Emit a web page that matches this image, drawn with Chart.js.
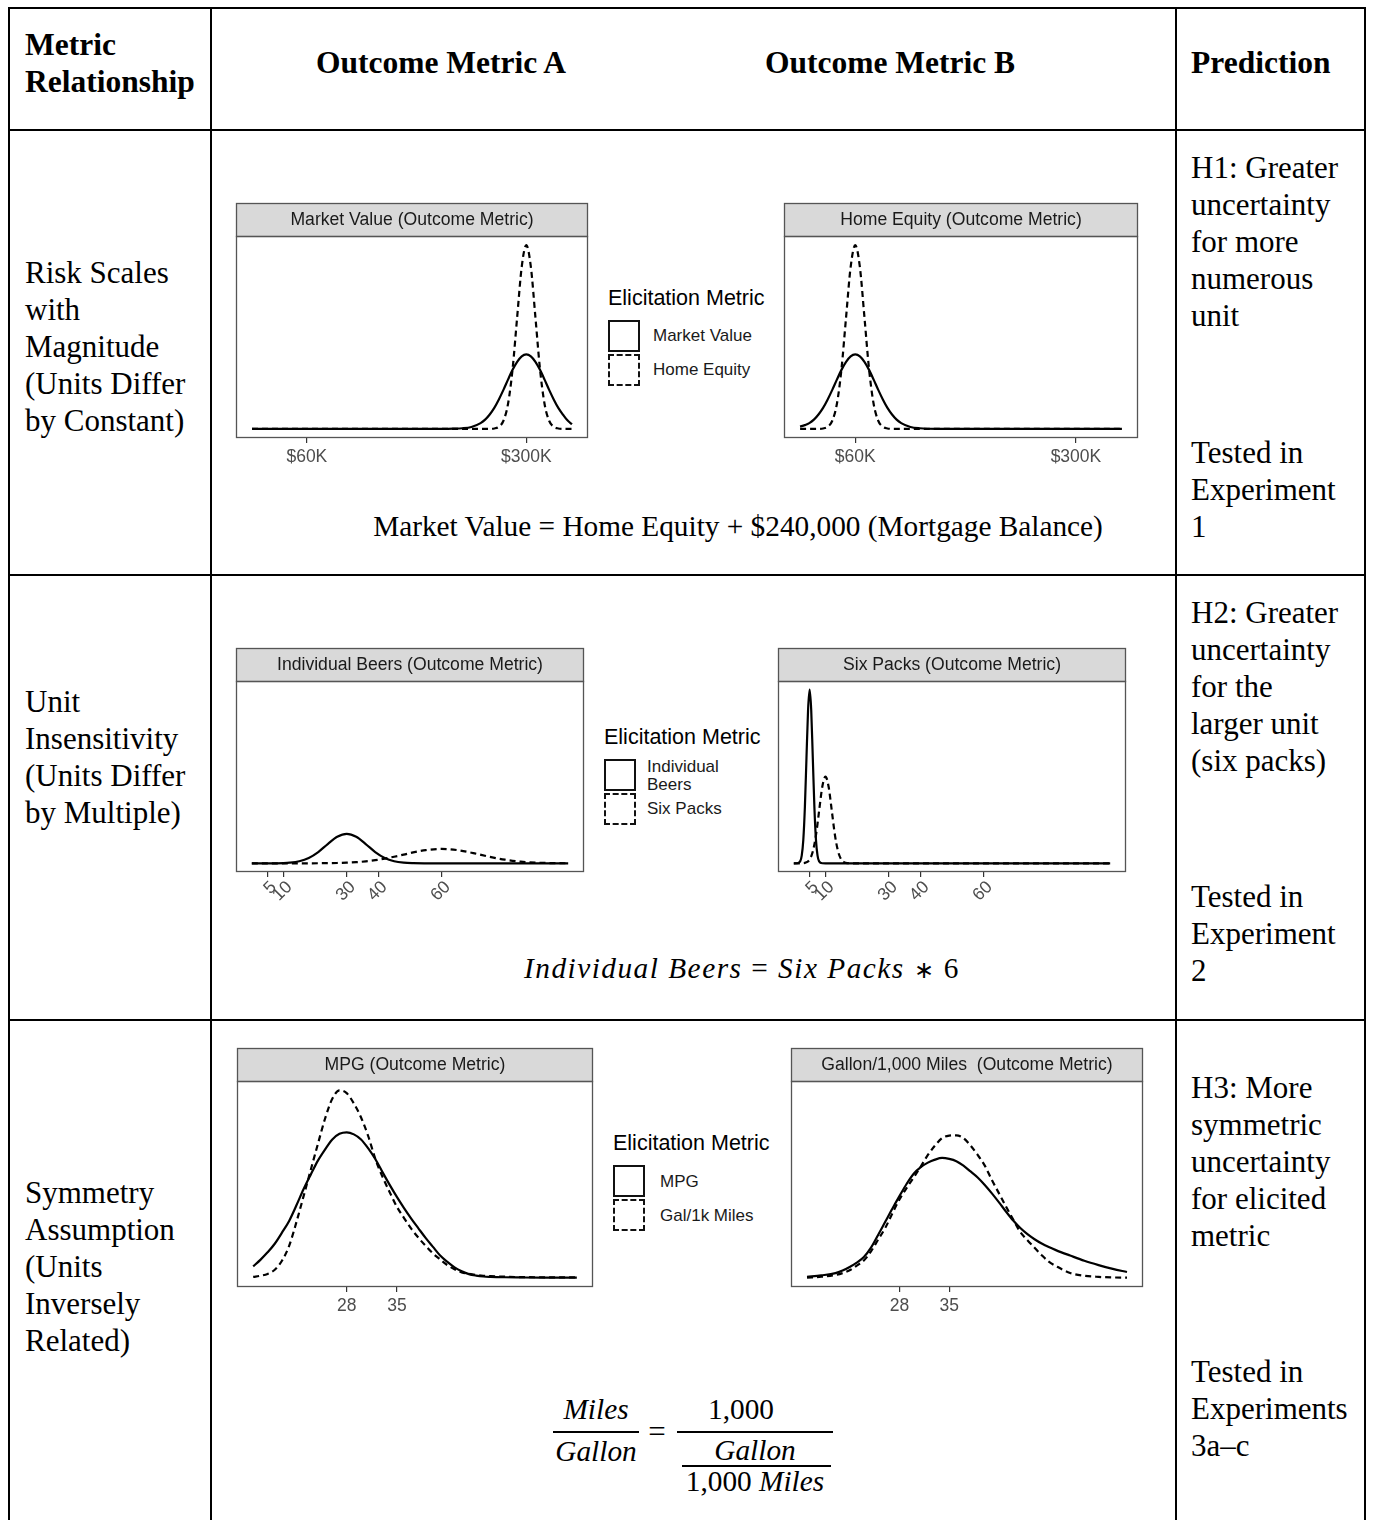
<!DOCTYPE html>
<html>
<head>
<meta charset="utf-8">
<script src="https://cdn.jsdelivr.net/npm/chart.js@4.4.1/dist/chart.umd.min.js"></script>
<style>
  html, body { margin:0; padding:0; background:#fff; }
  #page { position:relative; width:1374px; height:1520px; overflow:hidden; background:#fff; }
  .ln { position:absolute; background:#000; }
  .t { position:absolute; font-family:"Liberation Serif","Times New Roman",serif; font-size:31px; line-height:37px; color:#000; white-space:pre; }
  .b { font-weight:bold; font-size:31.5px; }
  .f { position:absolute; font-family:"Liberation Serif","Times New Roman",serif; font-size:29.3px; line-height:29px; color:#000; white-space:pre; }
  .i { font-style:italic; }
  .u { font-style:normal; }
  .lt { position:absolute; font-family:"Liberation Sans",Arial,sans-serif; font-size:21.5px; line-height:22px; color:#000; white-space:pre; }
  .ll { position:absolute; font-family:"Liberation Sans",Arial,sans-serif; font-size:17px; line-height:18px; color:#1a1a1a; white-space:pre; }
  .key { position:absolute; width:28px; height:28px; border:2px solid #111; background:#fff; }
  .key.dash { border-style:dashed; }
  canvas { position:absolute; }
</style>
</head>
<body>
<div id="page">
  <!-- table lines -->
  <div class="ln" style="left:8px;top:7px;width:1358px;height:2px"></div>
  <div class="ln" style="left:8px;top:129px;width:1358px;height:2px"></div>
  <div class="ln" style="left:8px;top:574px;width:1358px;height:2px"></div>
  <div class="ln" style="left:8px;top:1019px;width:1358px;height:2px"></div>
  <div class="ln" style="left:8px;top:7px;width:2px;height:1513px"></div>
  <div class="ln" style="left:210px;top:7px;width:2px;height:1513px"></div>
  <div class="ln" style="left:1175px;top:7px;width:2px;height:1513px"></div>
  <div class="ln" style="left:1364px;top:7px;width:2px;height:1513px"></div>

  <!-- header -->
  <div class="t b" style="left:25px;top:26px">Metric
Relationship</div>
  <div class="t b" style="left:241px;top:44px;width:400px;text-align:center">Outcome Metric A</div>
  <div class="t b" style="left:690px;top:44px;width:400px;text-align:center">Outcome Metric B</div>
  <div class="t b" style="left:1191px;top:44px">Prediction</div>

  <!-- row 1 -->
  <div class="t" style="left:25px;top:254px">Risk Scales
with
Magnitude
(Units Differ
by Constant)</div>
  <div class="t" style="left:1191px;top:149px">H1: Greater
uncertainty
for more
numerous
unit</div>
  <div class="t" style="left:1191px;top:434px">Tested in
Experiment
1</div>
  <div class="f" style="left:338px;top:512px;width:800px;text-align:center">Market Value = Home Equity + $240,000 (Mortgage Balance)</div>

  <!-- row 2 -->
  <div class="t" style="left:25px;top:683px">Unit
Insensitivity
(Units Differ
by Multiple)</div>
  <div class="t" style="left:1191px;top:594px">H2: Greater
uncertainty
for the
larger unit
(six packs)</div>
  <div class="t" style="left:1191px;top:878px">Tested in
Experiment
2</div>
  <div class="f i" style="left:442px;top:954px;width:600px;text-align:center;letter-spacing:1.5px">Individual Beers <span class="u">=</span> Six Packs <span class="u" style="font-size:24px">∗</span> <span class="u">6</span></div>

  <!-- row 3 -->
  <div class="t" style="left:25px;top:1174px">Symmetry
Assumption
(Units
Inversely
Related)</div>
  <div class="t" style="left:1191px;top:1069px">H3: More
symmetric
uncertainty
for elicited
metric</div>
  <div class="t" style="left:1191px;top:1353px">Tested in
Experiments
3a–c</div>

  <div class="f i" style="left:546px;top:1395px;width:100px;text-align:center">Miles</div>
  <div class="ln" style="left:553px;top:1431px;width:86px;height:2px"></div>
  <div class="f i" style="left:546px;top:1437px;width:100px;text-align:center">Gallon</div>
  <div class="f" style="left:637px;top:1417px;width:40px;text-align:center;font-size:31px">=</div>
  <div class="f" style="left:691px;top:1395px;width:100px;text-align:center">1,000</div>
  <div class="ln" style="left:677px;top:1431px;width:156px;height:2px"></div>
  <div class="f i" style="left:705px;top:1436px;width:100px;text-align:center">Gallon</div>
  <div class="ln" style="left:682px;top:1465px;width:149px;height:2px"></div>
  <div class="f" style="left:675px;top:1467px;width:160px;text-align:center">1,000 <span class="i">Miles</span></div>

  <!-- legends -->
  <div class="lt" style="left:608px;top:287px">Elicitation Metric</div>
  <div class="key" style="left:608px;top:320px"></div>
  <div class="key dash" style="left:608px;top:354px"></div>
  <div class="ll" style="left:653px;top:327px" id="lg1a"></div>
  <div class="ll" style="left:653px;top:361px" id="lg1b"></div>

  <div class="lt" style="left:604px;top:726px">Elicitation Metric</div>
  <div class="key" style="left:604px;top:759px"></div>
  <div class="key dash" style="left:604px;top:793px"></div>
  <div class="ll" style="left:647px;top:758px" id="lg2a"></div>
  <div class="ll" style="left:647px;top:800px" id="lg2b"></div>

  <div class="lt" style="left:613px;top:1132px">Elicitation Metric</div>
  <div class="key" style="left:613px;top:1165px"></div>
  <div class="key dash" style="left:613px;top:1199px"></div>
  <div class="ll" style="left:660px;top:1173px" id="lg3a"></div>
  <div class="ll" style="left:660px;top:1207px" id="lg3b"></div>

  <!-- charts -->
  <canvas id="c1" width="360" height="278" style="left:232px;top:200px"></canvas>
  <canvas id="c2" width="362" height="278" style="left:780px;top:200px"></canvas>
  <canvas id="c3" width="356" height="277" style="left:232px;top:645px"></canvas>
  <canvas id="c4" width="356" height="277" style="left:774px;top:645px"></canvas>
  <canvas id="c5" width="364" height="282" style="left:233px;top:1045px"></canvas>
  <canvas id="c6" width="360" height="282" style="left:787px;top:1045px"></canvas>
</div>
<script>
// ---------------- data ----------------
const panelTitles = [
  'Market Value (Outcome Metric)', 'Home Equity (Outcome Metric)',
  'Individual Beers (Outcome Metric)', 'Six Packs (Outcome Metric)',
  'MPG (Outcome Metric)', 'Gallon/1,000 Miles  (Outcome Metric)'
];
const legend1Labels = ['Market Value', 'Home Equity'];
const legend2Labels = ['Individual\nBeers', 'Six Packs'];
const legend3Labels = ['MPG', 'Gal/1k Miles'];

const dollarTicks = [60, 300];
const dollarTickLabels = ['$60K', '$300K'];
const beerTicks = [5, 10, 30, 40, 60];
const beerTickLabels = ['5', '10', '30', '40', '60'];
const mpgTicks = [28, 35];
const mpgTickLabels = ['28', '35'];

// Market Value panel (thousands of dollars)
const mvX      = [0,50,100,150,200,210,220,230,240,250,255,260,265,270,275,280,285,290,295,300,305,310,315,320,325,330,335,340,345,350];
const mvSolid  = [0,0,0,0,0,0,0.001,0.003,0.010,0.031,0.050,0.078,0.114,0.160,0.212,0.268,0.321,0.365,0.395,0.405,0.395,0.365,0.321,0.268,0.212,0.160,0.114,0.078,0.046,0.025];
const mvDashed = [0,0,0,0,0,0,0,0,0,0,0,0,0.002,0.011,0.044,0.135,0.325,0.607,0.882,1,0.882,0.607,0.325,0.135,0.044,0.011,0.002,0,0,0];

// Home Equity panel
const heX      = [0,5,10,15,20,25,30,35,40,45,50,55,60,65,70,75,80,85,90,95,100,105,110,120,130,150,200,250,300,350];
const heSolid  = [0.012,0.020,0.031,0.050,0.078,0.114,0.160,0.212,0.268,0.321,0.365,0.395,0.405,0.395,0.365,0.321,0.268,0.212,0.160,0.114,0.078,0.050,0.031,0.010,0.003,0,0,0,0,0];
const heDashed = [0,0,0,0,0,0.002,0.011,0.044,0.135,0.325,0.607,0.882,1,0.882,0.607,0.325,0.135,0.044,0.011,0.002,0,0,0,0,0,0,0,0,0,0];

// Individual Beers panel
const beerX      = [0,5,10,12,15,18,21,24,27,30,33,36,39,42,45,48,51,55,60,65,70,75,80,85,90,95,100];
const beerSolid  = [0,0.0001,0.0015,0.0037,0.012,0.031,0.065,0.111,0.153,0.170,0.153,0.111,0.065,0.031,0.012,0.0037,0.0009,0.0001,0,0,0,0,0,0,0,0,0];
const beerDashed = [0,0,0,0,0.0001,0.0002,0.0004,0.0009,0.0019,0.0037,0.0066,0.0112,0.018,0.027,0.038,0.050,0.063,0.076,0.083,0.076,0.059,0.038,0.021,0.0095,0.0037,0.0012,0.0003];

// Six Packs panel
const sixX      = [0,1,2,2.5,3,3.5,4,4.5,5,5.5,6,6.5,7,7.5,8,9,10,11,12,13,14,15,16,17,18,20,25,30,40,50,60,70,80,90,100];
const sixSolid  = [0,0.0003,0.011,0.044,0.135,0.325,0.607,0.882,1,0.882,0.607,0.325,0.135,0.044,0.011,0.0003,0,0,0,0,0,0,0,0,0,0,0,0,0,0,0,0,0,0,0];
const sixDashed = [0,0,0.0002,0.0004,0.0011,0.0025,0.0056,0.0114,0.022,0.040,0.068,0.108,0.162,0.229,0.303,0.441,0.5,0.441,0.303,0.162,0.068,0.022,0.0056,0.0011,0.0002,0,0,0,0,0,0,0,0,0,0];

// MPG panel
const mpgX      = [15,16,17,18,19,20,21,22,23,24,25,26,27,28,29,30,31,32,33,34,35,36,37,38,39,40,41,42,43,44,45,46,47,48,50,52,55,60];
const mpgSolid  = [0.060,0.095,0.135,0.181,0.240,0.303,0.385,0.472,0.550,0.625,0.685,0.738,0.768,0.776,0.765,0.738,0.690,0.632,0.562,0.494,0.430,0.370,0.314,0.262,0.211,0.164,0.118,0.084,0.055,0.034,0.019,0.011,0.006,0.004,0.002,0.001,0,0];
const mpgDashed = [0.004,0.010,0.020,0.042,0.090,0.170,0.295,0.434,0.575,0.714,0.850,0.955,1.0,0.985,0.930,0.855,0.755,0.632,0.537,0.455,0.377,0.317,0.260,0.212,0.169,0.129,0.097,0.067,0.045,0.028,0.020,0.014,0.010,0.008,0.005,0.003,0.002,0.001];

// Gallon / 1,000 Miles panel
const galX      = [15,17,19,20,21,22,23,24,25,26,27,28,29,30,31,32,33,34,35,36,37,38,39,40,41,42,43,44,45,46,47,48,49,50,52,54,56,58,60];
const galSolid  = [0.004,0.012,0.024,0.038,0.057,0.080,0.110,0.160,0.228,0.298,0.368,0.435,0.500,0.555,0.590,0.614,0.630,0.639,0.634,0.622,0.598,0.567,0.535,0.495,0.450,0.402,0.352,0.305,0.265,0.232,0.205,0.182,0.163,0.147,0.118,0.090,0.067,0.047,0.030];
const galDashed = [0,0.005,0.014,0.024,0.039,0.064,0.092,0.140,0.203,0.265,0.343,0.418,0.478,0.535,0.593,0.655,0.705,0.745,0.758,0.760,0.745,0.705,0.655,0.598,0.521,0.450,0.378,0.310,0.243,0.200,0.160,0.120,0.085,0.062,0.025,0.010,0.004,0.001,0];

// ---------------- legends text ----------------
document.getElementById('lg1a').textContent = legend1Labels[0];
document.getElementById('lg1b').textContent = legend1Labels[1];
document.getElementById('lg2a').textContent = legend2Labels[0];
document.getElementById('lg2b').textContent = legend2Labels[1];
document.getElementById('lg3a').textContent = legend3Labels[0];
document.getElementById('lg3b').textContent = legend3Labels[1];

// ---------------- chart drawing ----------------
const panelPlugin = {
  id: 'panel',
  afterDraw(chart, args, opts) {
    const ctx = chart.ctx, a = chart.chartArea;
    const h = opts.stripHeight;
    ctx.save();
    ctx.fillStyle = '#d9d9d9';
    ctx.fillRect(a.left, a.top - h, a.right - a.left, h);
    ctx.strokeStyle = '#555';
    ctx.lineWidth = 1.3;
    ctx.strokeRect(a.left + 0.5, a.top - h + 0.5, a.right - a.left - 1, h);
    ctx.strokeRect(a.left + 0.5, a.top + 0.5, a.right - a.left - 1, a.bottom - a.top - 1);
    ctx.fillStyle = '#1a1a1a';
    ctx.font = '17.6px "Liberation Sans", Arial, sans-serif';
    ctx.textAlign = 'center';
    ctx.textBaseline = 'middle';
    ctx.fillText(opts.title, (a.left + a.right) / 2, a.top - h / 2 + 1);
    ctx.restore();
  }
};

function pts(xs, ys) { return xs.map((x, i) => ({ x: x, y: ys[i] })); }

function makeChart(id, cfg) {
  const ds = (ys, dash) => ({
    data: pts(cfg.x, ys),
    borderColor: '#000',
    borderWidth: 2.2,
    borderDash: dash,
    borderCapStyle: 'butt',
    pointRadius: 0,
    fill: false,
    cubicInterpolationMode: 'monotone'
  });
  return new Chart(document.getElementById(id), {
    type: 'line',
    data: { datasets: [ds(cfg.dashed, [6, 4]), ds(cfg.solid, [])] },
    plugins: [panelPlugin],
    options: {
      animation: false,
      responsive: false,
      devicePixelRatio: 1,
      events: [],
      layout: { padding: { left: 4, right: 4, top: 36, bottom: 0 } },
      plugins: {
        legend: { display: false },
        tooltip: { enabled: false },
        panel: { title: cfg.title, stripHeight: 33 }
      },
      scales: {
        x: {
          type: 'linear',
          min: cfg.min, max: cfg.max,
          afterBuildTicks: (s) => { s.ticks = cfg.ticks.map(v => ({ value: v })); },
          afterFit: (s) => { s.height = cfg.axisH; },
          ticks: {
            autoSkip: false,
            callback: (v, i) => cfg.tickLabels[i],
            color: '#4d4d4d',
            font: { family: '"Liberation Sans", Arial, sans-serif', size: 17.5 },
            padding: cfg.tickPad,
            labelOffset: cfg.labelOffset,
            minRotation: cfg.rot, maxRotation: cfg.rot
          },
          grid: { display: true, drawOnChartArea: false, drawTicks: true, tickLength: 5, color: '#333', lineWidth: 1.2 },
          border: { display: false }
        },
        y: { display: false, min: -0.05, max: 1.05 }
      }
    }
  });
}

makeChart('c1', { x: mvX, solid: mvSolid, dashed: mvDashed, title: panelTitles[0], min: -17.5, max: 367.5, ticks: dollarTicks, tickLabels: dollarTickLabels, axisH: 40, tickPad: 4, labelOffset: 0, rot: 0 });
makeChart('c2', { x: heX, solid: heSolid, dashed: heDashed, title: panelTitles[1], min: -17.5, max: 367.5, ticks: dollarTicks, tickLabels: dollarTickLabels, axisH: 40, tickPad: 4, labelOffset: 0, rot: 0 });
makeChart('c3', { x: beerX, solid: beerSolid, dashed: beerDashed, title: panelTitles[2], min: -5, max: 105, ticks: beerTicks, tickLabels: beerTickLabels, axisH: 50, tickPad: 0, labelOffset: 6, rot: 45 });
makeChart('c4', { x: sixX, solid: sixSolid, dashed: sixDashed, title: panelTitles[3], min: -5, max: 105, ticks: beerTicks, tickLabels: beerTickLabels, axisH: 50, tickPad: 0, labelOffset: 6, rot: 45 });
makeChart('c5', { x: mpgX, solid: mpgSolid, dashed: mpgDashed, title: panelTitles[4], min: 12.75, max: 62.25, ticks: mpgTicks, tickLabels: mpgTickLabels, axisH: 40, tickPad: 4, labelOffset: 0, rot: 0 });
makeChart('c6', { x: galX, solid: galSolid, dashed: galDashed, title: panelTitles[5], min: 12.75, max: 62.25, ticks: mpgTicks, tickLabels: mpgTickLabels, axisH: 40, tickPad: 4, labelOffset: 0, rot: 0 });
</script>
</body>
</html>
